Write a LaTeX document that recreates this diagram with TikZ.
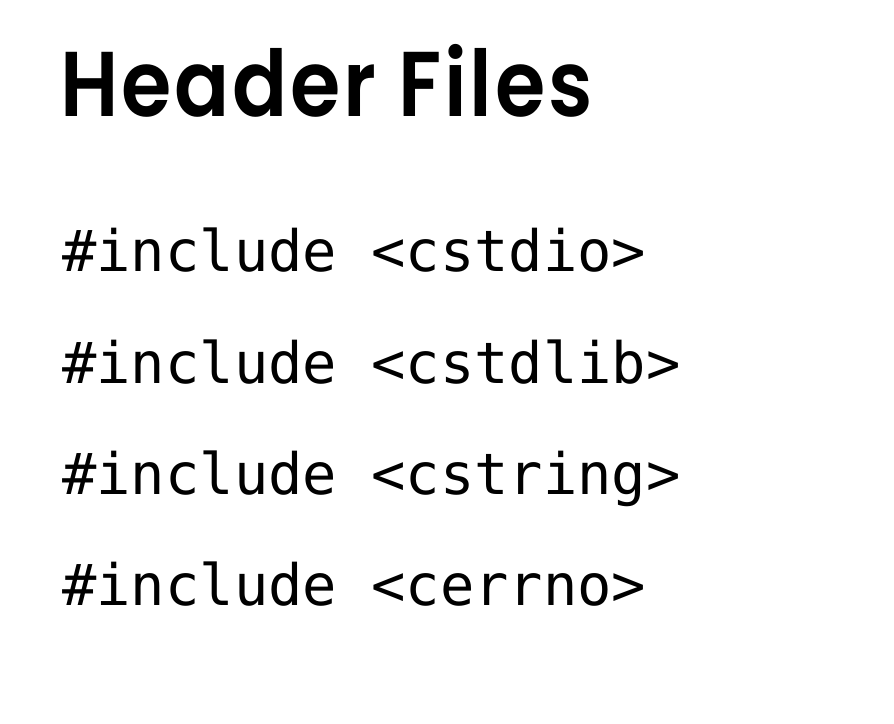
\documentclass[tikz,border=0pt]{standalone}
\usepackage{fontspec}
\usepackage{xcolor}
\newfontfamily\titlefont{Poppins}[BoldFont={Poppins SemiBold}, FakeStretch=0.885, LetterSpace=3]
\newfontfamily\codefont{DejaVu Sans Mono}
\usetikzlibrary{positioning}

\begin{document}
\begin{tikzpicture}[
    x=0.75pt, y=-0.75pt,
    title/.style={anchor=base west, inner sep=0pt, font=\titlefont\bfseries\fontsize{69}{84}\selectfont},
    codeline/.style={anchor=base west, inner sep=0pt, font=\codefont\fontsize{42.8}{50}\selectfont}
]
\useasboundingbox[fill=white] (0,0) rectangle (894,724);

% Title
\node[title] (head) at (60,117) {Header Files};

% Include lines
\node[codeline] (inc1) at (62,272) {\#include <cstdio>};
\node[codeline] (inc2) at (62,383) {\#include <cstdlib>};
\node[codeline] (inc3) at (62,494) {\#include <cstring>};
\node[codeline] (inc4) at (62,605) {\#include <cerrno>};

\end{tikzpicture}
\end{document}
